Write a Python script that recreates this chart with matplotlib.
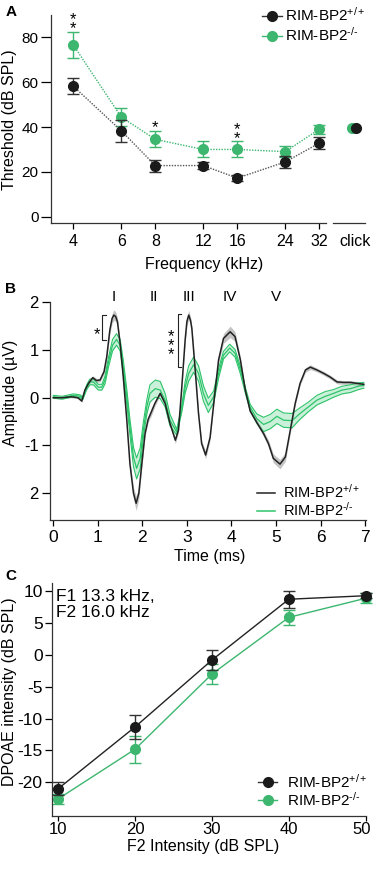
import matplotlib
matplotlib.use('Agg')
import matplotlib.pyplot as plt
import matplotlib.transforms as mtransforms
from matplotlib.lines import Line2D
import numpy as np

plt.rcParams['font.family'] = ['Liberation Sans', 'DejaVu Sans']
plt.rcParams['mathtext.fontset'] = 'custom'
plt.rcParams['mathtext.rm'] = 'Liberation Sans'
plt.rcParams['mathtext.it'] = 'Liberation Sans:italic'
plt.rcParams['mathtext.bf'] = 'Liberation Sans:bold'
plt.rcParams['axes.unicode_minus'] = False
plt.rcParams['font.size'] = 10

# --- Panel A: ABR thresholds ---
freqs = [4, 6, 8, 12, 16, 24, 32]
thr_wt = [58.2, 38.3, 22.8, 22.8, 17.2, 24.4, 32.8]
thr_wt_err = [3.6, 5.0, 2.7, 1.5, 1.5, 2.6, 2.8]
thr_ko = [76.6, 44.4, 34.5, 30.0, 30.0, 29.0, 39.0]
thr_ko_err = [5.6, 4.0, 3.6, 3.6, 3.6, 2.6, 2.0]
click_wt = 39.6
click_ko = 39.6

# --- Panel B: averaged ABR waveforms (time in ms, amplitude in uV) ---
t_wt = [0.0, 0.2, 0.4, 0.55, 0.64, 0.71, 0.79, 0.885, 0.97, 1.05, 1.14, 1.2,
        1.27, 1.32, 1.36, 1.40, 1.44, 1.5, 1.57, 1.65, 1.72, 1.8, 1.86, 1.92,
        1.98, 2.06, 2.13, 2.2, 2.28, 2.40, 2.51, 2.62, 2.74, 2.81, 2.88, 2.96,
        3.00, 3.04, 3.08, 3.11, 3.18, 3.26, 3.33, 3.42, 3.52, 3.61, 3.71, 3.82,
        3.97, 4.08, 4.20, 4.31, 4.42, 4.57, 4.72, 4.83, 4.94, 5.09, 5.21, 5.32,
        5.43, 5.54, 5.66, 5.77, 5.92, 6.07, 6.22, 6.37, 6.52, 6.67, 6.82, 6.97]
v_wt = [0.0, 0.0, 0.02, 0.0, -0.07, 0.16, 0.30, 0.42, 0.36, 0.37, 0.55, 0.86,
        1.42, 1.66, 1.73, 1.70, 1.59, 1.14, 0.44, -0.47, -1.38, -2.0, -2.21, -2.0,
        -1.45, -0.75, -0.45, -0.30, -0.12, 0.09, -0.12, -0.54, -0.89, -0.68, 0.16, 1.21,
        1.60, 1.73, 1.62, 1.45, 0.65, -0.33, -0.96, -1.20, -0.83, -0.05, 0.79, 1.24,
        1.38, 1.28, 0.79, 0.16, -0.28, -0.52, -0.75, -0.96, -1.27, -1.39, -1.24, -0.68,
        -0.12, 0.30, 0.58, 0.64, 0.58, 0.51, 0.43, 0.33, 0.32, 0.32, 0.30, 0.28]
sem_wt = [0.02, 0.02, 0.02, 0.02, 0.03, 0.03, 0.03, 0.04, 0.04, 0.04, 0.05, 0.06,
          0.08, 0.10, 0.11, 0.10, 0.09, 0.06, 0.05, 0.06, 0.08, 0.12, 0.15, 0.12,
          0.08, 0.06, 0.06, 0.08, 0.06, 0.04, 0.04, 0.05, 0.07, 0.05, 0.04, 0.06,
          0.08, 0.10, 0.08, 0.06, 0.05, 0.05, 0.06, 0.08, 0.06, 0.05, 0.07, 0.10,
          0.12, 0.10, 0.06, 0.05, 0.04, 0.05, 0.06, 0.07, 0.09, 0.10, 0.09, 0.06,
          0.05, 0.04, 0.05, 0.05, 0.04, 0.04, 0.04, 0.04, 0.04, 0.04, 0.04, 0.04]

t_ko = [0.0, 0.2, 0.45, 0.6, 0.66, 0.75, 0.82, 0.9, 1.01, 1.09, 1.16, 1.24,
        1.33, 1.42, 1.5, 1.57, 1.65, 1.72, 1.8, 1.87, 1.95, 2.02, 2.1, 2.17,
        2.29, 2.40, 2.51, 2.62, 2.77, 2.88, 2.96, 3.04, 3.15, 3.26, 3.37, 3.48,
        3.60, 3.71, 3.82, 3.96, 4.08, 4.20, 4.31, 4.42, 4.57, 4.72, 4.87, 5.02,
        5.17, 5.36, 5.54, 5.73, 5.92, 6.11, 6.29, 6.48, 6.67, 6.85, 6.97]
v_ko = [0.02, 0.0, 0.05, 0.03, -0.01, 0.22, 0.33, 0.33, 0.22, 0.22, 0.37, 0.75,
        1.10, 1.22, 1.10, 0.65, 0.02, -0.61, -1.24, -1.48, -1.27, -0.68, -0.19, 0.09,
        0.19, 0.16, -0.05, -0.47, -0.72, -0.26, 0.22, 0.51, 0.69, 0.51, 0.09, -0.16,
        0.02, 0.51, 0.89, 1.04, 0.93, 0.58, 0.16, -0.20, -0.44, -0.56, -0.50, -0.39,
        -0.47, -0.48, -0.33, -0.19, -0.05, 0.03, 0.09, 0.16, 0.19, 0.24, 0.26]
sem_ko = [0.03, 0.03, 0.03, 0.03, 0.03, 0.05, 0.06, 0.06, 0.06, 0.06, 0.08, 0.10,
          0.12, 0.12, 0.12, 0.14, 0.15, 0.16, 0.20, 0.22, 0.22, 0.16, 0.15, 0.18,
          0.18, 0.18, 0.14, 0.12, 0.06, 0.06, 0.12, 0.16, 0.16, 0.16, 0.16, 0.15,
          0.12, 0.10, 0.08, 0.08, 0.08, 0.08, 0.06, 0.06, 0.10, 0.15, 0.15, 0.15,
          0.15, 0.15, 0.12, 0.10, 0.10, 0.10, 0.08, 0.08, 0.08, 0.07, 0.06]

wave_labels = ['I', 'II', 'III', 'IV', 'V']
wave_times = [1.35, 2.26, 3.04, 3.96, 4.99]
amp_ticks = [2, 1, 0, -1, -2]
amp_ticklabels = ['2', '1', '0', '-1', '2']

# --- Panel C: DPOAE growth ---
f2_levels = [10, 20, 30, 40, 50]
dp_wt = [-21.0, -11.3, -0.8, 8.75, 9.3]
dp_wt_err = [1.0, 1.9, 1.6, 1.3, 0.4]
dp_ko = [-22.6, -14.8, -3.0, 5.9, 8.9]
dp_ko_err = [0.8, 2.1, 1.5, 1.2, 0.8]

lbl_wt = 'RIM-BP2$^{+/+}$'
lbl_ko = 'RIM-BP2$^{\u2010/\u2010}$'

GREEN = '#3DB66F'
GREEN_LINE = '#2DC46A'
BLACK = '#1a1a1a'

W, H = 373, 869
fig = plt.figure(figsize=(W / 100, H / 100), dpi=100)


def box(x0, y0, x1, y1):
    # pixel box (top-left origin) -> figure fraction rect
    return [x0 / W, 1 - y1 / H, (x1 - x0) / W, (y1 - y0) / H]


def style(ax):
    for s in ['top', 'right']:
        ax.spines[s].set_visible(False)
    for s in ['left', 'bottom']:
        ax.spines[s].set_linewidth(0.9)
        ax.spines[s].set_color('#333333')


def stars(ax, x, y, n, size=12):
    # stacked asterisks centred on (x, y) in data units
    ax.annotate('\n'.join(['*'] * n), xy=(x, y), xytext=(0, -3.8),
                textcoords='offset points', ha='center', va='center',
                fontsize=size, linespacing=0.5, annotation_clip=False)


# ================= Panel A =================
axA = fig.add_axes(box(51, 15, 326, 222.7))
style(axA)
axA.set_xscale('log')
axA.set_xlim(3.31, 33.9)
axA.set_ylim(-2.7, 90)
axA.errorbar(freqs, thr_wt, yerr=thr_wt_err, color='#555555', ls=(0, (1, 1)), lw=1,
             marker='o', ms=7, mfc=BLACK, mec=BLACK, ecolor='#333333',
             elinewidth=1, capsize=4, capthick=1, zorder=3)
axA.errorbar(freqs, thr_ko, yerr=thr_ko_err, color=GREEN, ls=(0, (1, 1)), lw=1,
             marker='o', ms=7, mfc=GREEN, mec=GREEN, ecolor=GREEN,
             elinewidth=1, capsize=4, capthick=1, zorder=2)
axA.set_xticks(freqs)
axA.set_xticklabels([str(f) for f in freqs])
axA.xaxis.set_minor_locator(matplotlib.ticker.NullLocator())
axA.set_yticks([0, 20, 40, 60, 80])
axA.tick_params(axis='x', length=4, width=0.9, pad=4, labelsize=11.5)
axA.tick_params(axis='y', length=7, width=0.9, pad=2, labelsize=11)

stars(axA, 4, 88.2, 2)
stars(axA, 8, 42.1, 1)
stars(axA, 16, 39.2, 2)

# separate "click" column to the right of the frequency axis
# (x in axes fraction, y in data units)
click_tr = mtransforms.blended_transform_factory(axA.transAxes, axA.transData)
axA.plot([1.027, 1.142], [0, 0], color='#333333', lw=0.9,
         transform=axA.transAxes, clip_on=False)
axA.plot([1.095], [click_ko], 'o', ms=7, color=GREEN, transform=click_tr,
         clip_on=False, zorder=2)
axA.plot([1.109], [click_wt], 'o', ms=7, color=BLACK, transform=click_tr,
         clip_on=False, zorder=3)
axA.annotate('click', xy=(1.105, 0), xycoords='axes fraction', xytext=(0, -8),
             textcoords='offset points', ha='center', va='top', fontsize=11.5)

hA = [Line2D([], [], color='#333333', marker='o', ms=7, mfc=BLACK, mec=BLACK, lw=1),
      Line2D([], [], color=GREEN, marker='o', ms=7, mfc=GREEN, mec=GREEN, lw=1)]
fig.legend(hA, [lbl_wt, lbl_ko], loc='center left', bbox_to_anchor=(261.7 / W, 1 - 25 / H),
           frameon=False, fontsize=11, handlelength=1.3, handletextpad=0.22,
           labelspacing=0.15, borderpad=0, borderaxespad=0)

fig.text(10 / W, 1 - 120 / H, 'Threshold (dB SPL)', rotation=90, ha='center',
         va='center', fontsize=11.5)
fig.text(204 / W, 1 - 264 / H, 'Frequency (kHz)', ha='center', va='center', fontsize=11.5)
fig.text(6 / W, 1 - 12 / H, 'A', fontweight='bold', fontsize=11, ha='left', va='center')

# ================= Panel B =================
axB = fig.add_axes(box(50, 301.7, 366, 520))
style(axB)
axB.set_xlim(-0.074, 7.02)
axB.set_ylim(-2.56, 2.01)

t_wt_a, v_wt_a, s_wt_a = np.array(t_wt), np.array(v_wt), np.array(sem_wt)
t_ko_a, v_ko_a, s_ko_a = np.array(t_ko), np.array(v_ko), np.array(sem_ko)

axB.fill_between(t_wt_a, v_wt_a - s_wt_a, v_wt_a + s_wt_a, color='#c4c4c4', lw=0, zorder=1)
axB.fill_between(t_ko_a, v_ko_a - s_ko_a, v_ko_a + s_ko_a, color=GREEN_LINE, alpha=0.25,
                 lw=0, zorder=2)
axB.plot(t_ko_a, v_ko_a + s_ko_a, color=GREEN_LINE, lw=0.8, zorder=3)
axB.plot(t_ko_a, v_ko_a - s_ko_a, color=GREEN_LINE, lw=0.8, zorder=3)
axB.plot(t_ko_a, v_ko_a, color=GREEN_LINE, lw=0.9, zorder=3)
axB.plot(t_wt_a, v_wt_a, color='#222222', lw=1.1, zorder=4)

axB.set_xticks(range(0, 8))
axB.set_yticks(amp_ticks)
axB.set_yticklabels(amp_ticklabels)
axB.tick_params(axis='x', length=4.5, width=0.9, pad=3, labelsize=12.5)
axB.tick_params(axis='y', length=6, width=0.9, pad=2, labelsize=12)

for lab, tx in zip(wave_labels, wave_times):
    axB.text(tx, 2.1, lab, ha='center', va='center', fontsize=11, clip_on=False)

# significance brackets
for x0, y0, y1 in [(1.10, 1.21, 1.73), (2.79, 0.65, 1.75)]:
    axB.plot([x0 + 0.075, x0, x0, x0 + 0.075], [y1, y1, y0, y0], color='#222222', lw=0.8)
stars(axB, 0.99, 1.43, 1)
stars(axB, 2.64, 1.21, 3)

hB = [Line2D([], [], color='#222222', lw=1.1), Line2D([], [], color=GREEN_LINE, lw=1.1)]
fig.legend(hB, [lbl_wt, lbl_ko], loc='center left', bbox_to_anchor=(256.7 / W, 1 - 500.8 / H),
           frameon=False, fontsize=10.5, handlelength=1.25, handletextpad=0.55,
           labelspacing=0.0, borderpad=0, borderaxespad=0)

fig.text(11 / W, 1 - 393 / H, 'Amplitude (µV)', rotation=90, ha='center', va='center',
         fontsize=11.5)
fig.text(210 / W, 1 - 557 / H, 'Time (ms)', ha='center', va='center', fontsize=11.5)
fig.text(5 / W, 1 - 289 / H, 'B', fontweight='bold', fontsize=11, ha='left', va='center')

# ================= Panel C =================
axC = fig.add_axes(box(52.3, 583, 366, 816))
style(axC)
axC.set_xlim(9.22, 50.04)
axC.set_ylim(-25.3, 11.3)
axC.errorbar(f2_levels, dp_wt, yerr=dp_wt_err, color='#222222', lw=1, marker='o', ms=7,
             mfc=BLACK, mec=BLACK, ecolor='#333333', elinewidth=1, capsize=4,
             capthick=1, zorder=3, clip_on=False)
axC.errorbar(f2_levels, dp_ko, yerr=dp_ko_err, color=GREEN, lw=1, marker='o', ms=7,
             mfc=GREEN, mec=GREEN, ecolor=GREEN, elinewidth=1, capsize=4,
             capthick=1, zorder=2, clip_on=False)
axC.set_xticks(f2_levels)
axC.set_yticks([10, 5, 0, -5, -10, -15, -20])
axC.tick_params(axis='x', length=3.5, width=0.9, pad=1, labelsize=12)
axC.tick_params(axis='y', length=5, width=0.9, pad=2, labelsize=12.5)
# last x label sits at the figure edge: nudge it left a little
last_lab = axC.get_xticklabels()[-1]
last_lab.set_transform(last_lab.get_transform()
                       + mtransforms.ScaledTranslation(-0.045, 0, fig.dpi_scale_trans))
axC.text(0.013, 0.975, 'F1 13.3 kHz,\nF2 16.0 kHz', transform=axC.transAxes, ha='left',
         va='top', fontsize=12.5, linespacing=1.1)

hC = [Line2D([], [], color='#333333', marker='o', ms=7, mfc=BLACK, mec=BLACK, lw=1),
      Line2D([], [], color=GREEN, marker='o', ms=7, mfc=GREEN, mec=GREEN, lw=1)]
fig.legend(hC, [lbl_wt, lbl_ko], loc='center left', bbox_to_anchor=(258.3 / W, 1 - 790.5 / H),
           frameon=False, fontsize=11, handlelength=1.25, handletextpad=0.6,
           labelspacing=0.0, borderpad=0, borderaxespad=0)

fig.text(10 / W, 1 - 692 / H, 'DPOAE intensity (dB SPL)', rotation=90, ha='center',
         va='center', fontsize=11.5)
fig.text(203 / W, 1 - 847 / H, 'F2 Intensity (dB SPL)', ha='center', va='center',
         fontsize=11.5)
fig.text(5 / W, 1 - 576 / H, 'C', fontweight='bold', fontsize=11, ha='left', va='center')

fig.savefig('out.png', dpi=100)
